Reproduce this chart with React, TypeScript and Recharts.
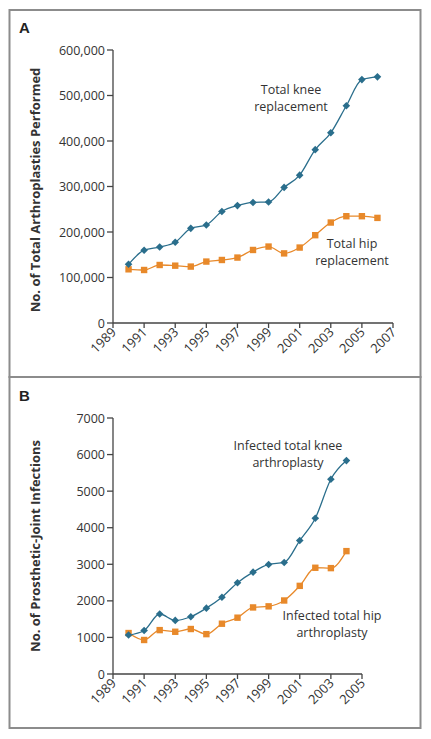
import React from "react";
import { LineChart, Line, XAxis, YAxis } from "recharts";

// Panel A: arthroplasties performed per year
const yearsA = [1990, 1991, 1992, 1993, 1994, 1995, 1996, 1997, 1998, 1999, 2000, 2001, 2002, 2003, 2004, 2005, 2006];
const kneeA = [129000, 160000, 167000, 177500, 208000, 215500, 245000, 258000, 265000, 266000, 298000, 325000, 381000, 418000, 477500, 535000, 541000];
const hipA = [118000, 116500, 127500, 126000, 124000, 135000, 138500, 143800, 160500, 168000, 153000, 165800, 193000, 220800, 234700, 234700, 231000];
const ticksXA = [1989, 1991, 1993, 1995, 1997, 1999, 2001, 2003, 2005, 2007];
const ticksYA = [0, 100000, 200000, 300000, 400000, 500000, 600000];

// Panel B: prosthetic-joint infections per year
const yearsB = [1990, 1991, 1992, 1993, 1994, 1995, 1996, 1997, 1998, 1999, 2000, 2001, 2002, 2003, 2004];
const kneeB = [1065, 1190, 1640, 1465, 1565, 1800, 2100, 2495, 2785, 2995, 3050, 3650, 4260, 5325, 5835];
const hipB = [1120, 930, 1200, 1155, 1230, 1090, 1375, 1540, 1820, 1850, 2010, 2410, 2905, 2895, 3360];
const ticksXB = [1989, 1991, 1993, 1995, 1997, 1999, 2001, 2003, 2005];
const ticksYB = [0, 1000, 2000, 3000, 4000, 5000, 6000, 7000];

const KNEE = "#2a6e8c";
const HIP = "#e8892a";
const AXIS = "#444";
const TEXT = "#333";
const BORDER = "#8c8c8c";
const FONT = "'Open Sans', sans-serif";

const dataA = yearsA.map((y, i) => ({ year: y, knee: kneeA[i], hip: hipA[i] }));
const dataB = yearsB.map((y, i) => ({ year: y, knee: kneeB[i], hip: hipB[i] }));

function Diamond(props: any) {
  const { cx, cy } = props;
  if (cx == null || cy == null) return null;
  const r = 3.8;
  return <path d={`M${cx},${cy - r}L${cx + r},${cy}L${cx},${cy + r}L${cx - r},${cy}Z`} fill={KNEE} />;
}

function Square(props: any) {
  const { cx, cy } = props;
  if (cx == null || cy == null) return null;
  const s = 6.4;
  return <rect x={cx - s / 2} y={cy - s / 2} width={s} height={s} fill={HIP} />;
}

function YearTick(props: any) {
  const { x, y, payload } = props;
  const tx = x + 4;
  const ty = y + 3;
  return (
    <text x={tx} y={ty} transform={`rotate(-45, ${tx}, ${ty})`} textAnchor="end" fontSize={13} fill={TEXT} fontFamily={FONT}>
      {payload.value}
    </text>
  );
}

function ValueTick(props: any) {
  const { x, y, payload, comma } = props;
  const v = comma ? payload.value.toLocaleString("en-US") : String(payload.value);
  return (
    <text x={x} y={y + 4.5} textAnchor="end" fontSize={12.5} fill={TEXT} fontFamily={FONT}>
      {v}
    </text>
  );
}

function Panel({ data, ticksX, ticksY, height, marginTop, marginRight, xHeight, yMax, comma }: any) {
  return (
    <LineChart width={431} height={height} data={data} margin={{ top: marginTop, right: marginRight, left: 0, bottom: 0 }}>
      <XAxis
        dataKey="year"
        type="number"
        domain={[ticksX[0], ticksX[ticksX.length - 1]]}
        ticks={ticksX}
        interval={0}
        height={xHeight}
        stroke={AXIS}
        strokeWidth={1.3}
        tickSize={5}
        tick={<YearTick />}
      />
      <YAxis
        type="number"
        domain={[0, yMax]}
        ticks={ticksY}
        interval={0}
        width={113}
        stroke={AXIS}
        strokeWidth={1.3}
        tickSize={6}
        tickMargin={2}
        tick={<ValueTick comma={comma} />}
      />
      <Line type="monotone" dataKey="hip" stroke={HIP} strokeWidth={1.3} dot={(p: any) => <Square {...p} key={p.key} />} activeDot={false} isAnimationActive={false} />
      <Line type="monotone" dataKey="knee" stroke={KNEE} strokeWidth={1.3} dot={(p: any) => <Diamond {...p} key={p.key} />} activeDot={false} isAnimationActive={false} />
    </LineChart>
  );
}

export default function App() {
  const label = { fontFamily: FONT, fontSize: 12.5, fill: TEXT, textAnchor: "middle" as const };
  const title = { fontFamily: FONT, fontSize: 13, fontWeight: 700, fill: TEXT, textAnchor: "middle" as const };
  const panel = { fontFamily: "'Liberation Sans', Arial, sans-serif", fontWeight: 700, fontSize: 15, fill: "#222" };
  return (
    <div style={{ position: "absolute", left: 0, top: 0, width: 431, height: 739, background: "#fff" }}>
      <svg width={431} height={739} style={{ position: "absolute", left: 0, top: 0 }}>
        <rect x={9.5} y={10} width={411} height={367} fill="none" stroke={BORDER} strokeWidth={2} />
        <rect x={9.5} y={377} width={411} height={351} fill="none" stroke={BORDER} strokeWidth={2} />
        <text {...panel} x={19} y={33}>A</text>
        <text {...panel} x={19} y={401}>B</text>
        <text {...title} transform="translate(40, 190) rotate(-90)">No. of Total Arthroplasties Performed</text>
        <text {...title} transform="translate(40, 546) rotate(-90)">No. of Prosthetic-Joint Infections</text>
        <text {...label} x={291} y={94}>Total knee</text>
        <text {...label} x={291} y={111}>replacement</text>
        <text {...label} x={352} y={248}>Total hip</text>
        <text {...label} x={352} y={265}>replacement</text>
        <text {...label} x={288} y={450}>Infected total knee</text>
        <text {...label} x={288} y={467}>arthroplasty</text>
        <text {...label} x={332} y={620}>Infected total hip</text>
        <text {...label} x={332} y={637}>arthroplasty</text>
      </svg>
      <div style={{ position: "absolute", left: 0, top: 0 }}>
        <Panel data={dataA} ticksX={ticksXA} ticksY={ticksYA} height={377} marginTop={50} marginRight={38} xHeight={54} yMax={600000} comma />
      </div>
      <div style={{ position: "absolute", left: 0, top: 377 }}>
        <Panel data={dataB} ticksX={ticksXB} ticksY={ticksYB} height={362} marginTop={41} marginRight={69} xHeight={65} yMax={7000} comma={false} />
      </div>
    </div>
  );
}
